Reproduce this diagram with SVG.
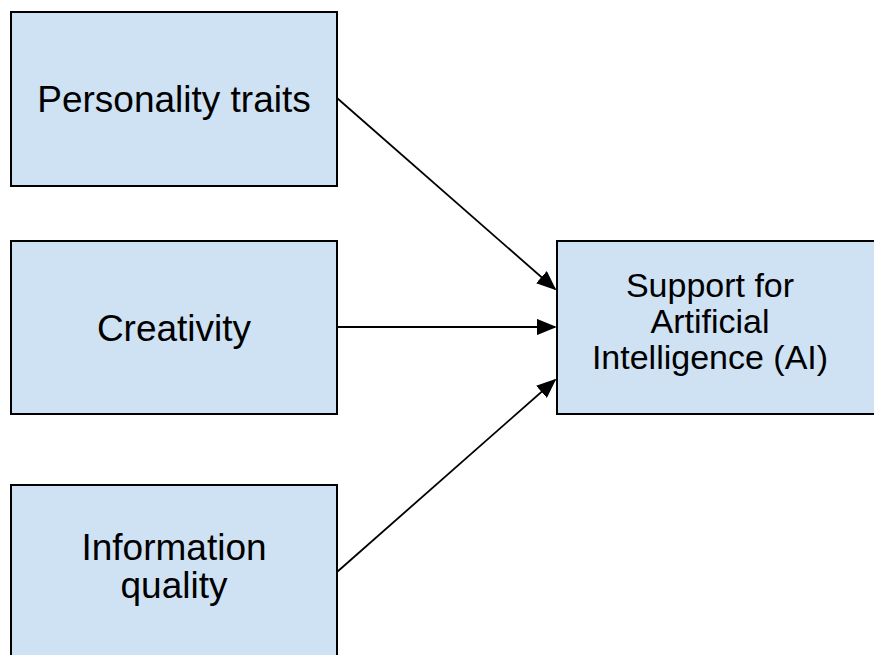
<svg xmlns="http://www.w3.org/2000/svg" width="874" height="655" viewBox="0 0 874 655">
  <style>
    .box { fill: #cfe2f3; stroke: #000; stroke-width: 2; }
    .label { font-family: "Liberation Sans", Arial, sans-serif; font-size: 37px; fill: #000; text-anchor: middle; }
    .label.small { font-size: 34px; }
    .edge { stroke: #000; stroke-width: 1.8; fill: none; marker-end: url(#arrow); }
  </style>
  <defs>
    <marker id="arrow" markerWidth="11" markerHeight="9" refX="10" refY="4.5" orient="auto" markerUnits="strokeWidth">
      <path d="M0,0 L11,4.5 L0,9 Z" fill="#000"/>
    </marker>
  </defs>

  <g id="personality">
    <rect class="box" x="11" y="12" width="326" height="174"/>
    <text class="label" x="174" y="112">Personality traits</text>
  </g>

  <g id="creativity">
    <rect class="box" x="11" y="241" width="326" height="173"/>
    <text class="label" x="174" y="341">Creativity</text>
  </g>

  <g id="information">
    <rect class="box" x="11" y="485" width="326" height="180"/>
    <text class="label" x="174" y="560">Information</text>
    <text class="label" x="174" y="598">quality</text>
  </g>

  <g id="support">
    <rect class="box" x="557" y="241" width="330" height="173"/>
    <text class="label small" x="710" y="297">Support for</text>
    <text class="label small" x="710" y="333">Artificial</text>
    <text class="label small" x="710" y="369">Intelligence (AI)</text>
  </g>

  <g id="connectors">
    <line class="edge" x1="337" y1="98" x2="555" y2="289"/>
    <line class="edge" x1="337" y1="327" x2="555" y2="327"/>
    <line class="edge" x1="337" y1="572" x2="555" y2="380"/>
  </g>
</svg>
